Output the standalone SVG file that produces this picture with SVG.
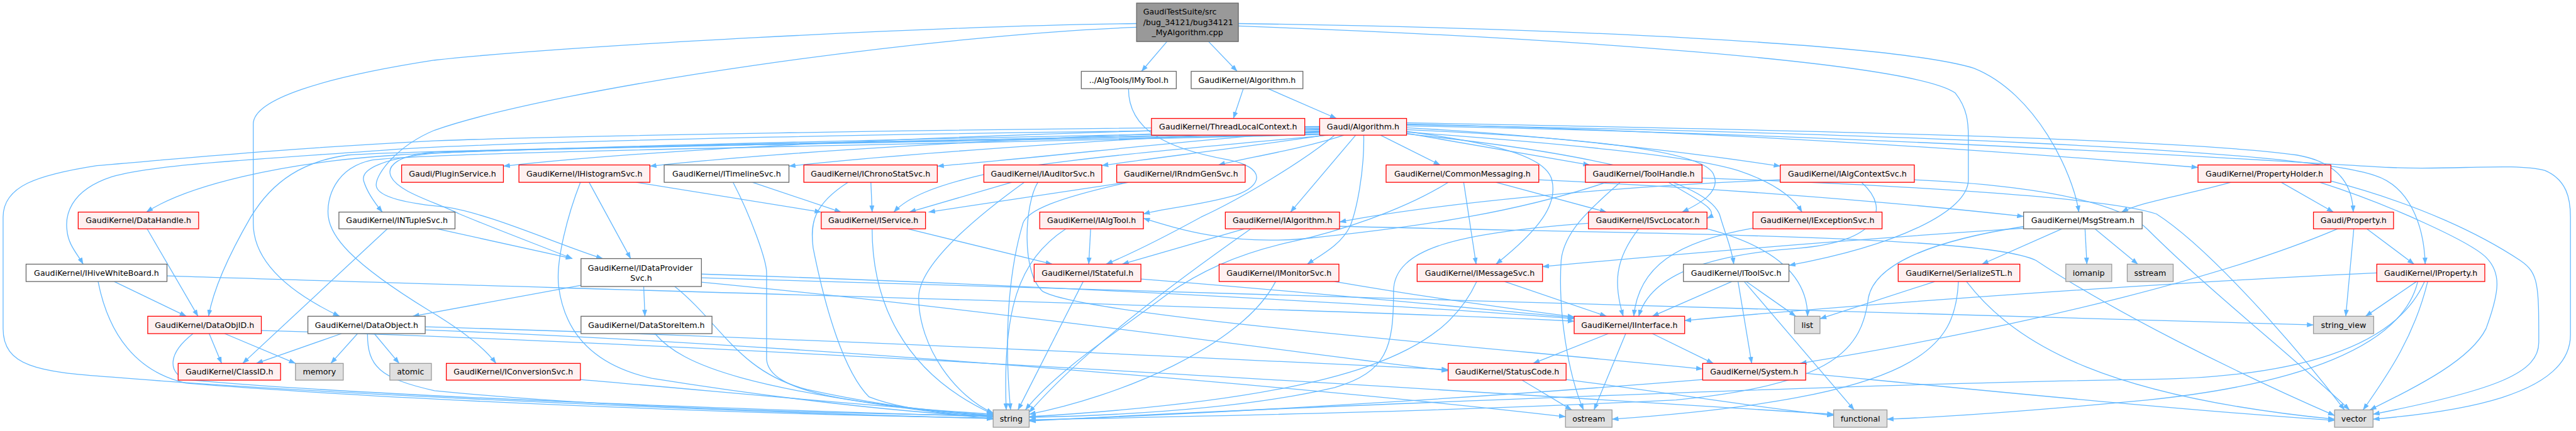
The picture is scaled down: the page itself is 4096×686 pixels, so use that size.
<svg xmlns="http://www.w3.org/2000/svg" width="4096" height="686" viewBox="0 0 4096 686">
<style>
.r rect{fill:#FFF0F0;stroke:#FF0000;stroke-width:1.3}
.w rect{fill:#FFFFFF;stroke:#666666;stroke-width:1.3}
.g rect{fill:#E0E0E0;stroke:#999999;stroke-width:1.3}
.top rect{fill:#999999;stroke:#666666;stroke-width:1.3}
text{font-family:"DejaVu Sans","Liberation Sans",sans-serif;font-size:12.8px;fill:#000000;text-anchor:middle}
text.l{text-anchor:start}
#edges path{fill:none;stroke:#63B8FF;stroke-width:1.3;marker-end:url(#ah)}
</style>
<defs>
<marker id="ah" markerUnits="userSpaceOnUse" markerWidth="11" markerHeight="8" viewBox="0 0 11 8" refX="10.5" refY="4" orient="auto"><path d="M0,0 L11,4 L0,8 z" fill="#63B8FF" stroke="none"/></marker>
</defs>
<rect x="0" y="0" width="4096" height="686" fill="#FFFFFF"/>
<g transform="scale(0.987)">
<g id="edges">
<path d="M1880,67 L1839,115"/>
<path d="M1947,67 L1993,115"/>
<path d="M1831,38 C1500,42 900,75 700,97 C520,125 408,160 408,200 L408,360 C408,430 480,478 547,510"/>
<path d="M1831,44 C1500,56 900,140 700,210 C640,235 606,280 606,298 C606,318 660,328 710,333 C780,340 900,395 971,417"/>
<path d="M1995,38 C2500,45 3050,70 3180,110 C3280,150 3340,280 3349,342"/>
<path d="M1995,42 C2500,60 3080,100 3150,150 C3170,175 3171,200 3171,220 L3171,290 C3171,340 3060,395 2882,428"/>
<path d="M1818,143 C1818,210 1880,240 1980,258 C2040,270 2035,300 1990,315 C1930,332 1880,335 1842,345"/>
<path d="M2003,143 L1987,191"/>
<path d="M2043,143 L2153,191"/>
<path d="M2126,205 C1700,212 1100,235 811,268"/>
<path d="M2126,207 C1800,215 1300,240 1047,268"/>
<path d="M2126,209 C1850,220 1450,248 1271,268"/>
<path d="M2126,211 C1950,222 1700,252 1510,268"/>
<path d="M2135,218 C2000,238 1850,256 1775,267"/>
<path d="M2165,218 C2100,240 2000,256 1963,266"/>
<path d="M2224,218 L2320,266"/>
<path d="M2266,215 L2561,266"/>
<path d="M2266,206 C2500,218 2750,250 2868,268"/>
<path d="M2266,200 C2800,212 3300,250 3541,270"/>
<path d="M2126,212 C1500,222 800,240 640,250 C450,262 300,300 236,342"/>
<path d="M2126,214 C1600,225 900,237 700,247 C620,255 580,272 586,292 C592,312 606,330 616,342"/>
<path d="M2126,208 C1500,214 900,226 650,240 C400,258 250,265 180,285 C110,308 105,350 108,372 C110,395 125,410 134,426"/>
<path d="M2126,204 C1500,208 900,220 700,227 C450,240 300,255 156,267 C60,282 5,300 5,350 L5,530 C5,590 60,600 180,608 C500,635 1200,665 1600,675"/>
<path d="M2126,216 C1500,230 700,240 560,250 C490,260 440,290 404,350 C375,400 345,460 336,510"/>
<path d="M2126,217 C1400,235 700,245 600,258 C540,270 525,320 529,350 C533,380 560,420 690,500 C740,530 780,560 799,586"/>
<path d="M2126,213 C1500,226 900,238 700,245 C640,250 622,268 630,285 C642,310 700,325 740,345 C800,370 880,400 922,417"/>
<path d="M2140,218 C1900,240 1700,258 1600,278 C1500,300 1460,320 1440,342"/>
<path d="M2184,218 L2079,342"/>
<path d="M2197,218 C2198,280 2185,340 2175,365 C2160,395 2130,410 2106,426"/>
<path d="M2266,212 C2400,230 2490,250 2500,290 C2510,330 2480,370 2410,426"/>
<path d="M2266,209 C2550,222 2740,242 2760,280 C2775,310 2735,330 2710,342"/>
<path d="M2266,213 C2500,230 2720,250 2800,275 C2860,295 2890,320 2903,342"/>
<path d="M2266,198 C2800,208 3500,222 3700,250 C3770,262 3790,300 3791,342"/>
<path d="M2266,201 C3000,214 3700,240 3826,283 C3880,300 3905,360 3907,426"/>
<path d="M2150,218 C2100,260 2000,320 1935,350 C1880,380 1820,410 1782,426"/>
<path d="M2266,216 C2500,240 2740,280 2770,345 C2780,380 2790,400 2793,426"/>
<path d="M2266,203 C3000,216 3700,262 3849,270 C3950,275 4050,262 4100,275 C4135,290 4141,320 4141,350 L4141,540 C4141,640 3950,665 3823,676"/>
<path d="M949,294 L1016,417"/>
<path d="M1025,294 L1323,342"/>
<path d="M935,294 C915,345 895,420 900,462 C910,540 960,590 1050,610 C1300,650 1500,668 1600,672"/>
<path d="M1212,294 L1355,342"/>
<path d="M1181,294 C1210,350 1235,420 1235,440 L1235,580 C1240,630 1350,650 1600,670"/>
<path d="M1403,294 L1405,342"/>
<path d="M1366,294 C1310,330 1305,360 1310,400 C1330,500 1360,600 1400,640 C1450,660 1530,668 1600,671"/>
<path d="M1630,294 L1465,342"/>
<path d="M1650,294 C1600,330 1480,420 1480,480 C1480,560 1540,640 1600,666"/>
<path d="M1672,294 C1650,330 1645,440 1680,470 C1750,510 2400,560 2743,595"/>
<path d="M1815,294 L1496,342"/>
<path d="M1818,294 C1700,320 1655,340 1648,360 C1630,420 1615,520 1628,661"/>
<path d="M2410,294 L2588,342"/>
<path d="M2358,294 L2378,426"/>
<path d="M2478,290 C2700,300 3000,320 3260,349"/>
<path d="M2333,294 C2260,340 2150,375 2080,390 C1990,410 1930,440 1880,475 C1800,535 1700,600 1652,661"/>
<path d="M2588,294 C2450,340 2300,365 2100,385 C1980,395 1900,370 1842,352"/>
<path d="M2610,294 C2570,330 2520,370 2515,420 C2510,500 2525,600 2551,661"/>
<path d="M2688,294 C2730,320 2775,340 2750,352"/>
<path d="M2742,287 C3100,300 3400,320 3474,345 C3560,400 3700,560 3777,661"/>
<path d="M2999,294 C3050,340 3020,390 2900,400 C2760,410 2660,440 2640,510"/>
<path d="M3084,290 C3300,300 3420,330 3460,370 C3560,470 3700,580 3785,661"/>
<path d="M2868,290 C2600,300 2300,330 2158,358"/>
<path d="M3675,294 L3759,342"/>
<path d="M3594,294 C3520,315 3450,325 3418,342"/>
<path d="M3755,292 C3900,330 4000,380 4060,420 C4090,440 4090,460 4090,552 C4090,600 4027,628 3823,668"/>
<path d="M3737,294 C3850,330 3980,390 4005,415 C4030,440 4027,470 4005,530 C3980,580 3900,620 3818,661"/>
<path d="M237,369 L319,510"/>
<path d="M624,369 L391,586"/>
<path d="M704,369 L922,417"/>
<path d="M1462,369 L1695,426"/>
<path d="M1405,369 C1405,480 1450,600 1600,668"/>
<path d="M1757,369 L1754,426"/>
<path d="M1717,369 C1640,420 1615,500 1621,661"/>
<path d="M2005,369 L1808,426"/>
<path d="M2015,369 C1900,450 1750,560 1658,665"/>
<path d="M2158,365 C2700,378 3200,380 3280,420 C3400,500 3600,600 3761,670"/>
<path d="M2640,369 C2600,420 2600,460 2615,510"/>
<path d="M2559,360 C2350,375 2245,400 2245,470 C2245,560 2235,600 2150,625 C2000,660 1800,670 1658,673"/>
<path d="M2750,369 C2830,390 2912,430 2912,510"/>
<path d="M2824,368 C2700,390 2640,430 2632,510"/>
<path d="M3322,369 L3193,426"/>
<path d="M3359,369 L3362,426"/>
<path d="M3375,369 L3444,426"/>
<path d="M3262,368 C3000,385 2700,410 2485,430"/>
<path d="M3262,365 C3100,390 3020,430 3010,480 C3000,560 2960,620 2700,645 C2300,665 1900,672 1658,677"/>
<path d="M3813,369 L3889,426"/>
<path d="M3792,369 L3779,510"/>
<path d="M3766,369 C3600,440 3300,520 2900,586"/>
<path d="M184,454 L300,510"/>
<path d="M158,454 C175,540 220,600 300,618 C700,650 1300,670 1600,674"/>
<path d="M269,445 C800,462 2200,500 2536,518"/>
<path d="M936,460 L665,510"/>
<path d="M1037,462 L1039,510"/>
<path d="M1087,462 C1160,520 1190,600 1300,628 C1400,650 1500,665 1600,670"/>
<path d="M1130,442 C1700,460 2300,495 2536,514"/>
<path d="M1130,448 C1900,470 3000,505 3727,524"/>
<path d="M1130,455 C1600,500 2100,570 2333,598"/>
<path d="M1745,454 L1640,661"/>
<path d="M1838,450 C2100,470 2400,500 2536,512"/>
<path d="M2055,454 C2000,560 1800,640 1658,668"/>
<path d="M2150,454 C2300,480 2450,500 2536,511"/>
<path d="M2424,454 L2588,510"/>
<path d="M2379,454 C2330,560 2200,640 1658,672"/>
<path d="M2790,454 L2662,510"/>
<path d="M2800,454 L2822,586"/>
<path d="M2813,454 L2893,510"/>
<path d="M2810,454 L2987,661"/>
<path d="M3117,454 L2932,514"/>
<path d="M3155,454 C3150,560 3100,640 2597,676"/>
<path d="M3168,454 C3250,560 3400,640 3761,676"/>
<path d="M3829,440 C3500,455 3000,490 2714,517"/>
<path d="M3893,454 L3811,510"/>
<path d="M3911,454 C3890,540 3850,600 3807,661"/>
<path d="M3906,454 C3860,560 3700,610 3450,612 C3000,618 2000,660 1658,679"/>
<path d="M3895,454 C3870,560 3700,620 3460,645 C3300,660 3150,672 3040,676"/>
<path d="M337,538 L357,586"/>
<path d="M362,538 L476,586"/>
<path d="M311,538 C270,570 270,600 300,612 C600,640 1200,660 1600,672"/>
<path d="M421,533 C1200,555 2500,640 2954,668"/>
<path d="M550,538 L413,586"/>
<path d="M576,538 L533,586"/>
<path d="M603,538 L643,586"/>
<path d="M592,538 C592,590 610,610 700,630 C1000,660 1400,668 1600,670"/>
<path d="M685,527 C1300,545 2000,580 2333,596"/>
<path d="M685,532 C1400,560 2200,635 2522,672"/>
<path d="M1055,538 C1100,590 1200,630 1600,676"/>
<path d="M2591,538 L2470,586"/>
<path d="M2619,538 L2568,661"/>
<path d="M2662,538 L2760,586"/>
<path d="M935,612 C1200,635 1400,655 1600,668"/>
<path d="M2452,613 L2532,661"/>
<path d="M2523,612 C2700,635 2850,660 2954,670"/>
<path d="M2743,612 C2400,640 2000,665 1658,678"/>
<path d="M2909,602 C3200,630 3500,660 3761,678"/>
</g>
<g id="n0" class="top"><rect x="1831" y="5" width="164" height="62"/><text class="l" x="1841.6" y="22.8">GaudiTestSuite/src</text><text class="l" x="1841.6" y="40.2">/bug_34121/bug34121</text><text x="1913" y="57.2">_MyAlgorithm.cpp</text></g>
<g id="n1" class="w"><rect x="1742" y="115" width="153" height="28"/><text x="1818.5" y="133.4">../AlgTools/IMyTool.h</text></g>
<g id="n2" class="w"><rect x="1919" y="115" width="180" height="28"/><text x="2009" y="133.4">GaudiKernel/Algorithm.h</text></g>
<g id="n3" class="r"><rect x="1855" y="191" width="247" height="27"/><text x="1978.5" y="209">GaudiKernel/ThreadLocalContext.h</text></g>
<g id="n4" class="r"><rect x="2126" y="191" width="140" height="27"/><text x="2196" y="209">Gaudi/Algorithm.h</text></g>
<g id="n5" class="r"><rect x="647" y="266" width="164" height="28"/><text x="729" y="284.5">Gaudi/PluginService.h</text></g>
<g id="n6" class="r"><rect x="836" y="266" width="211" height="28"/><text x="941.5" y="284.5">GaudiKernel/IHistogramSvc.h</text></g>
<g id="n7" class="w"><rect x="1070" y="266" width="201" height="28"/><text x="1170.5" y="284.5">GaudiKernel/ITimelineSvc.h</text></g>
<g id="n8" class="r"><rect x="1295" y="266" width="215" height="28"/><text x="1402.5" y="284.5">GaudiKernel/IChronoStatSvc.h</text></g>
<g id="n9" class="r"><rect x="1585" y="266" width="190" height="28"/><text x="1680" y="284.5">GaudiKernel/IAuditorSvc.h</text></g>
<g id="n10" class="r"><rect x="1799" y="266" width="207" height="28"/><text x="1902.5" y="284.5">GaudiKernel/IRndmGenSvc.h</text></g>
<g id="n11" class="r"><rect x="2233" y="266" width="246" height="28"/><text x="2356" y="284.5">GaudiKernel/CommonMessaging.h</text></g>
<g id="n12" class="r"><rect x="2554" y="266" width="188" height="28"/><text x="2648" y="284.5">GaudiKernel/ToolHandle.h</text></g>
<g id="n13" class="r"><rect x="2868" y="266" width="216" height="28"/><text x="2976" y="284.5">GaudiKernel/IAlgContextSvc.h</text></g>
<g id="n14" class="r"><rect x="3541" y="266" width="214" height="28"/><text x="3648" y="284.5">GaudiKernel/PropertyHolder.h</text></g>
<g id="n15" class="r"><rect x="126" y="342" width="194" height="27"/><text x="223" y="360">GaudiKernel/DataHandle.h</text></g>
<g id="n16" class="w"><rect x="546" y="342" width="187" height="27"/><text x="639.5" y="360">GaudiKernel/INTupleSvc.h</text></g>
<g id="n17" class="r"><rect x="1323" y="342" width="168" height="27"/><text x="1407" y="360">GaudiKernel/IService.h</text></g>
<g id="n18" class="r"><rect x="1675" y="342" width="167" height="27"/><text x="1758.5" y="360">GaudiKernel/IAlgTool.h</text></g>
<g id="n19" class="r"><rect x="1974" y="342" width="184" height="27"/><text x="2066" y="360">GaudiKernel/IAlgorithm.h</text></g>
<g id="n20" class="r"><rect x="2559" y="342" width="191" height="27"/><text x="2654.5" y="360">GaudiKernel/ISvcLocator.h</text></g>
<g id="n21" class="r"><rect x="2824" y="342" width="208" height="27"/><text x="2928" y="360">GaudiKernel/IExceptionSvc.h</text></g>
<g id="n22" class="w"><rect x="3260" y="342" width="191" height="27"/><text x="3355.5" y="360">GaudiKernel/MsgStream.h</text></g>
<g id="n23" class="r"><rect x="3727" y="342" width="129" height="27"/><text x="3791.5" y="360">Gaudi/Property.h</text></g>
<g id="n24" class="w"><rect x="42" y="426" width="227" height="28"/><text x="155.5" y="444.5">GaudiKernel/IHiveWhiteBoard.h</text></g>
<g id="n25" class="w"><rect x="936" y="417" width="194" height="45"/><text class="l" x="947" y="436.2">GaudiKernel/IDataProvider</text><text x="1033" y="452.8">Svc.h</text></g>
<g id="n26" class="r"><rect x="1666" y="426" width="172" height="28"/><text x="1752" y="444.5">GaudiKernel/IStateful.h</text></g>
<g id="n27" class="r"><rect x="1964" y="426" width="193" height="28"/><text x="2060.5" y="444.5">GaudiKernel/IMonitorSvc.h</text></g>
<g id="n28" class="r"><rect x="2283" y="426" width="202" height="28"/><text x="2384" y="444.5">GaudiKernel/IMessageSvc.h</text></g>
<g id="n29" class="w"><rect x="2712" y="426" width="170" height="28"/><text x="2797" y="444.5">GaudiKernel/IToolSvc.h</text></g>
<g id="n30" class="r"><rect x="3058" y="426" width="196" height="28"/><text x="3156" y="444.5">GaudiKernel/SerializeSTL.h</text></g>
<g id="n31" class="g"><rect x="3328" y="426" width="74" height="28"/><text x="3365" y="444.5">iomanip</text></g>
<g id="n32" class="g"><rect x="3427" y="426" width="74" height="28"/><text x="3464" y="444.5">sstream</text></g>
<g id="n33" class="r"><rect x="3829" y="426" width="174" height="28"/><text x="3916" y="444.5">GaudiKernel/IProperty.h</text></g>
<g id="n34" class="r"><rect x="238" y="510" width="183" height="28"/><text x="329.5" y="528.5">GaudiKernel/DataObjID.h</text></g>
<g id="n35" class="w"><rect x="496" y="510" width="189" height="28"/><text x="590.5" y="528.5">GaudiKernel/DataObject.h</text></g>
<g id="n36" class="w"><rect x="936" y="510" width="211" height="28"/><text x="1041.5" y="528.5">GaudiKernel/DataStoreItem.h</text></g>
<g id="n37" class="r"><rect x="2536" y="510" width="178" height="28"/><text x="2625" y="528.5">GaudiKernel/IInterface.h</text></g>
<g id="n38" class="g"><rect x="2891" y="510" width="41" height="28"/><text x="2911.5" y="528.5">list</text></g>
<g id="n39" class="g"><rect x="3727" y="510" width="97" height="28"/><text x="3775.5" y="528.5">string_view</text></g>
<g id="n40" class="r"><rect x="287" y="586" width="165" height="27"/><text x="369.5" y="604">GaudiKernel/ClassID.h</text></g>
<g id="n41" class="g"><rect x="476" y="586" width="77" height="27"/><text x="514.5" y="604">memory</text></g>
<g id="n42" class="g"><rect x="628" y="586" width="67" height="27"/><text x="661.5" y="604">atomic</text></g>
<g id="n43" class="r"><rect x="719" y="586" width="216" height="27"/><text x="827" y="604">GaudiKernel/IConversionSvc.h</text></g>
<g id="n44" class="r"><rect x="2333" y="586" width="190" height="27"/><text x="2428" y="604">GaudiKernel/StatusCode.h</text></g>
<g id="n45" class="r"><rect x="2743" y="586" width="166" height="27"/><text x="2826" y="604">GaudiKernel/System.h</text></g>
<g id="n46" class="g"><rect x="1600" y="661" width="58" height="28"/><text x="1629" y="679.5">string</text></g>
<g id="n47" class="g"><rect x="2522" y="661" width="75" height="28"/><text x="2559.5" y="679.5">ostream</text></g>
<g id="n48" class="g"><rect x="2954" y="661" width="86" height="28"/><text x="2997" y="679.5">functional</text></g>
<g id="n49" class="g"><rect x="3761" y="661" width="62" height="28"/><text x="3792" y="679.5">vector</text></g>
</g>
</svg>
